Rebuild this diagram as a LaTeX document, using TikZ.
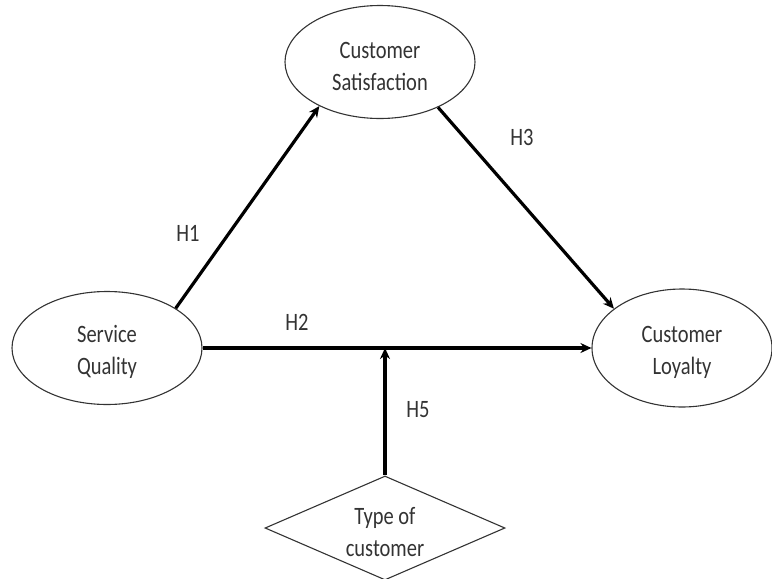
\documentclass[tikz,border=0pt]{standalone}
\usepackage{fontspec}
\setmainfont[FakeStretch=0.82]{Carlito}
\usetikzlibrary{shapes.geometric,arrows.meta}
\begin{document}
\begin{tikzpicture}[x=1pt,y=-1pt,
  every node/.style={font=\fontsize{25}{32}\selectfont, text=black!80},
  construct/.style={ellipse, draw=black!80, line width=1.1pt, minimum width=190pt, minimum height=113pt, inner sep=0pt, align=center},
  moderator/.style={diamond, draw=black!80, line width=1.1pt, minimum width=240pt, minimum height=104pt, aspect=2.3, inner sep=0pt, align=center},
  path/.style={line width=3.2pt, -{Stealth[length=11pt,width=10pt]}},
  lbl/.style={yshift=-4pt},
  hlabel/.style={inner sep=0pt}]
\useasboundingbox (0,0) rectangle (772,579);
\node[construct] (cs) at (380,62) {};
\node[construct] (sq) at (107,348) {};
\node[construct, minimum width=180pt, minimum height=118pt] (cl) at (682,348) {};
\node[moderator] (ty) at (385,528) {};
\node[lbl, align=center] (cst) at (cs) {Customer\\Satisfaction};
\node[lbl, align=center] (sqt) at (sq) {Service\\Quality};
\node[lbl, align=center] (clt) at (cl) {Customer\\Loyalty};
\node[lbl, align=center] (tyt) at (ty) {Type of\\customer};
\coordinate (mod) at (ty.north |- sq.east);
\draw[path] (sq.30) -- (cs.216);
\draw[path] (cs.322) -- (cl.150);
\draw[path] (sq.east) -- (cl.west);
\draw[path] (ty.north) -- (mod);
\node[hlabel] (h1) at (188,233) {H1};
\node[hlabel] (h3) at (522,137) {H3};
\node[hlabel] (h2) at (297,322) {H2};
\node[hlabel] (h5) at (418,410) {H5};
\end{tikzpicture}
\end{document}
